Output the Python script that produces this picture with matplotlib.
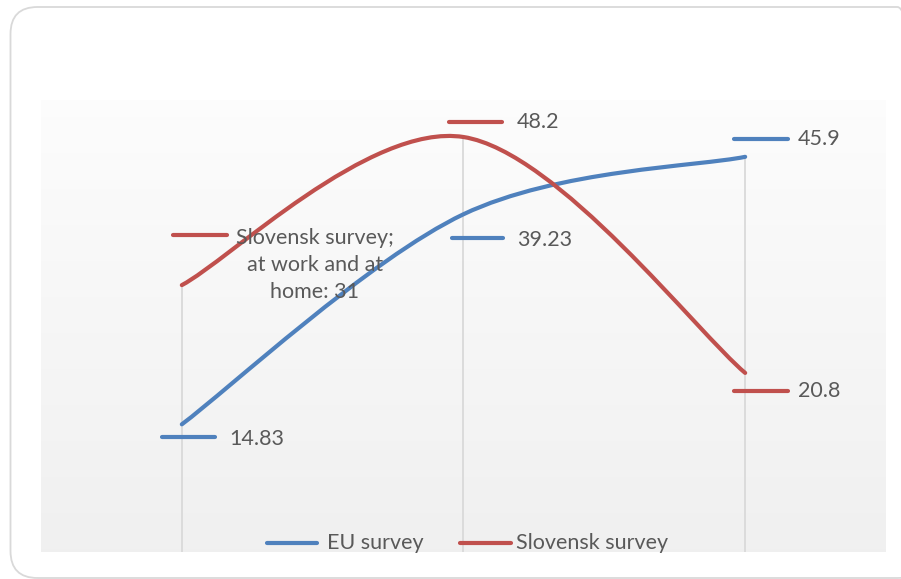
import numpy as np
import matplotlib
matplotlib.use("Agg")
import matplotlib.pyplot as plt
from matplotlib.path import Path
from matplotlib.patches import PathPatch, FancyBboxPatch
from matplotlib.lines import Line2D

categories = ["at work", "at work and at home", "at home"]
eu_values = [14.83, 39.23, 45.9]
sl_values = [31, 48.2, 20.8]
series_names = ["EU survey", "Slovensk survey"]
label_texts_eu = ["14.83", "39.23", "45.9"]
label_texts_sl = ["Slovensk survey;\nat work and at\nhome: 31", "48.2", "20.8"]

BLUE = "#4F81BD"
RED = "#C0504D"
TXT = "#595959"
FONT = "Lato"
FS = 15.5

W, H, DPI = 901, 579, 100
fig = plt.figure(figsize=(W / DPI, H / DPI), dpi=DPI)
fig.patch.set_facecolor("white")

# outer chart frame (rounded), running past the right edge
frame = FancyBboxPatch((10.5 / W, 1 - 578 / H), 914 / W, 571 / H,
                       boxstyle="round,pad=0,rounding_size=0.03",
                       transform=fig.transFigure, facecolor="none",
                       edgecolor="#d9d9d9", linewidth=1.3, mutation_aspect=W / H,
                       zorder=-5)
fig.patches.append(frame)

ax_l, ax_t, ax_r, ax_b = 41, 100, 886, 552
ax = fig.add_axes([ax_l / W, 1 - ax_b / H, (ax_r - ax_l) / W, (ax_b - ax_t) / H])
ax.set_xlim(-0.5, 2.5)
ax.set_ylim(0, 52.5)
for s in ax.spines.values():
    s.set_visible(False)
ax.set_xticks([])
ax.set_yticks([])
ax.patch.set_alpha(0)

# plot-area gradient
grad = np.linspace(0, 1, 256).reshape(-1, 1)
top = np.array([0.99, 0.99, 0.99])
bot = np.array([0.941, 0.941, 0.941])
img = top + (bot - top) * grad[..., None]
ax.imshow(img, extent=[-0.5, 2.5, 0, 52.5], origin="upper", aspect="auto",
          zorder=0, interpolation="bilinear")
ax.set_xlim(-0.5, 2.5)
ax.set_ylim(0, 52.5)

xs = np.arange(len(categories))

# drop lines
for x, a, b in zip(xs, eu_values, sl_values):
    ax.plot([x, x], [0, max(a, b)], color="#d9d9d9", lw=1.3, zorder=1)


def smooth_path(x, y, t=1 / 6):
    pts = np.column_stack([x, y]).astype(float)
    n = len(pts)
    verts = [pts[0]]
    codes = [Path.MOVETO]
    for i in range(n - 1):
        p_prev = pts[i - 1] if i > 0 else pts[i]
        p_next2 = pts[i + 2] if i + 2 < n else pts[i + 1]
        c1 = pts[i] + (pts[i + 1] - p_prev) * t
        c2 = pts[i + 1] - (p_next2 - pts[i]) * t
        verts += [c1, c2, pts[i + 1]]
        codes += [Path.CURVE4] * 3
    return Path(verts, codes)


for vals, col in [(eu_values, BLUE), (sl_values, RED)]:
    ax.add_patch(PathPatch(smooth_path(xs, vals), facecolor="none",
                           edgecolor=col, lw=3.0, capstyle="round", zorder=3))


def to_px(x, y):
    dx, dy = ax.transData.transform((x, y))
    return dx, H - dy


def px_line(x0, x1, y, col):
    fig.add_artist(Line2D([x0 / W, x1 / W], [1 - y / H, 1 - y / H],
                          transform=fig.transFigure, color=col, lw=3.0,
                          solid_capstyle="round", zorder=5))


def px_text(x, y, s, **kw):
    fig.text(x / W, 1 - y / H, s, color=TXT, family=FONT, zorder=6, **kw)


# data labels with legend keys: (key dx0, key dx1, key dy, text dx, text dy)
eu_offsets = [(-20, 33, 13, 47, 15), (-11, 40, 24, 54, 26), (-11, 43, -18, 53, -18)]
sl_offsets = [(-9, 45, -50, 133, -20), (-14, 39, -15, 53, -15), (-11, 43, 18, 53, 18)]

for vals, texts, offs, col in [(eu_values, label_texts_eu, eu_offsets, BLUE),
                               (sl_values, label_texts_sl, sl_offsets, RED)]:
    for x, v, s, (k0, k1, kdy, tdx, tdy) in zip(xs, vals, texts, offs):
        px, py = to_px(x, v)
        px_line(px + k0, px + k1, py + kdy, col)
        if "\n" in s:
            px_text(px + tdx, py + tdy, s, ha="center", va="center",
                    fontsize=FS, linespacing=1.45)
        else:
            px_text(px + tdx, py + tdy, s, ha="left", va="center", fontsize=FS)

# legend
px_line(267, 317, 543, BLUE)
px_text(327, 543, series_names[0], ha="left", va="center", fontsize=FS)
px_line(460, 511, 543, RED)
px_text(516, 543, series_names[1], ha="left", va="center", fontsize=FS)

fig.savefig("out.png", dpi=DPI)
